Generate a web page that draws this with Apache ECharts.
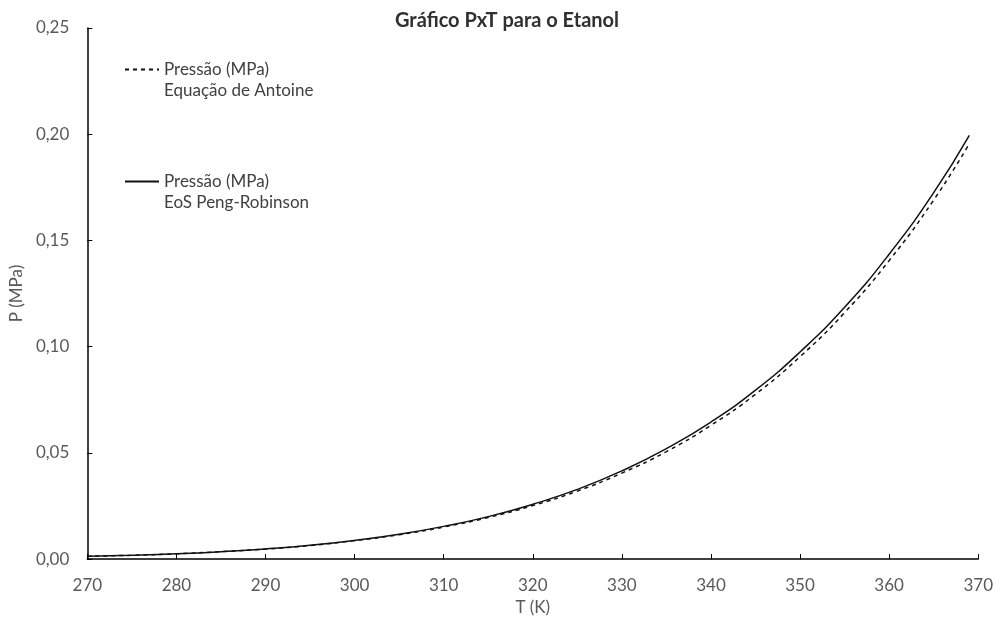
<!DOCTYPE html>
<html>
<head>
<meta charset="utf-8">
<script src="https://cdn.jsdelivr.net/npm/echarts@6/dist/echarts.min.js"></script>
<style>
  html, body { margin: 0; padding: 0; background: #fff; }
  #main { width: 996px; height: 621px; }
</style>
</head>
<body>
<div id="main"></div>
<script>
// temperatures (K)
const temps = [270, 275, 280, 285, 290, 295, 300, 305, 310, 315, 320, 325, 330, 335, 340, 345, 350, 355, 360, 365, 369];
// Antoine (dashed)
const pAntoine = [0.0013, 0.0018, 0.0025, 0.0035, 0.0047, 0.0064, 0.0087, 0.0115, 0.0151, 0.0196, 0.0252, 0.0320, 0.0405, 0.0506, 0.0630, 0.0776, 0.0953, 0.1160, 0.1405, 0.1690, 0.1955];
// Peng-Robinson (solid)
const pPengRobinson = [0.0013, 0.0018, 0.0025, 0.0035, 0.0048, 0.0065, 0.0088, 0.0117, 0.0154, 0.0200, 0.0258, 0.0328, 0.0415, 0.0520, 0.0645, 0.0795, 0.0975, 0.1185, 0.1435, 0.1725, 0.1995];

const nameAntoine = 'Pressão (MPa)\nEquação de Antoine';
const namePR = 'Pressão (MPa)\nEoS Peng-Robinson';

const font = 'Lato, "Open Sans", sans-serif';
const grey = '#595959';

let chart = echarts.init(document.getElementById('main'));
chart.setOption({
    backgroundColor: '#fff',
    animation: false,
    title: {
        text: 'Gráfico PxT para o Etanol',
        left: 502, top: 6, textAlign: 'center',
        textStyle: { fontFamily: font, fontSize: 20, fontWeight: 'bold', color: '#303030' }
    },
    legend: {
        orient: 'vertical',
        left: 124, top: 38, padding: 0,
        itemWidth: 34, itemHeight: 14, itemGap: 49,
        itemStyle: { opacity: 0 },
        data: [nameAntoine, namePR],
        // empty first line so the icon sits level with the first text line
        formatter: name => '{e|}\n' + name,
        textStyle: {
            fontFamily: font, fontSize: 17, color: '#404040', lineHeight: 21,
            rich: { e: { height: 21, lineHeight: 21 } }
        }
    },
    grid: { left: 86, right: 16, top: 28, bottom: 61 },
    xAxis: {
        type: 'value', min: 270, max: 370, interval: 10,
        name: 'T (K)', nameLocation: 'middle', nameGap: 36,
        nameTextStyle: { fontFamily: font, fontSize: 17, color: grey },
        axisLine: { lineStyle: { color: '#000', width: 1.5 } },
        axisTick: { inside: true, length: 5, lineStyle: { color: '#000' } },
        axisLabel: { margin: 18, fontFamily: font, fontSize: 17, color: grey },
        splitLine: { show: false }
    },
    yAxis: {
        type: 'value', min: 0, max: 0.25, interval: 0.05,
        name: 'P (MPa)', nameLocation: 'middle', nameGap: 59, nameRotate: 90,
        nameTextStyle: { fontFamily: font, fontSize: 17, color: grey },
        axisLine: { show: true, lineStyle: { color: '#000', width: 1.5 } },
        axisTick: { show: true, inside: true, length: 5, lineStyle: { color: '#000' } },
        axisLabel: {
            margin: 18, fontFamily: font, fontSize: 17, color: grey,
            formatter: v => v.toFixed(2).replace('.', ',')
        },
        splitLine: { show: false }
    },
    series: [
        {
            name: nameAntoine, type: 'line', smooth: true, symbol: 'none',
            data: temps.map((t, i) => [t, pAntoine[i]]),
            lineStyle: { color: '#111', width: 1.5, type: [4, 4] },
            itemStyle: { color: '#111' }
        },
        {
            name: namePR, type: 'line', smooth: true, symbol: 'none',
            data: temps.map((t, i) => [t, pPengRobinson[i]]),
            lineStyle: { color: '#111', width: 1.5 },
            itemStyle: { color: '#111' }
        }
    ]
});
</script>
</body>
</html>
